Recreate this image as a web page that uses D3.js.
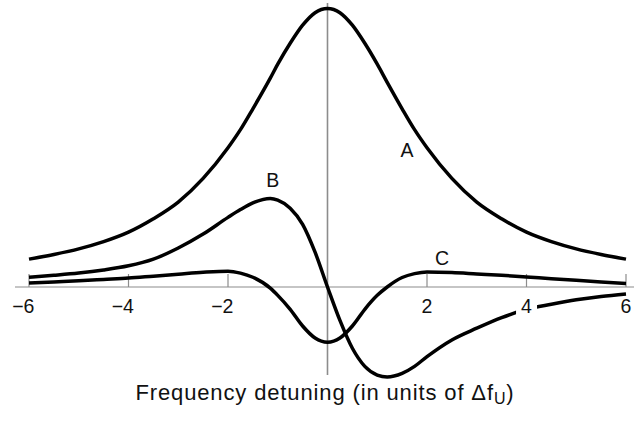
<!DOCTYPE html>
<html>
<head>
<meta charset="utf-8">
<script src="https://cdn.jsdelivr.net/npm/d3@7"></script>
<style>
  html, body { margin: 0; padding: 0; background: #fff; }
  svg { display: block; font-family: "Liberation Sans", Arial, Helvetica, sans-serif; }
</style>
</head>
<body>
<svg id="chart" width="634" height="421"></svg>
<script>
// Detuning samples (units of Δf_U)
const detuning = [-6, -5.5, -5, -4.5, -4, -3.5, -3, -2.5, -2, -1.75, -1.5, -1.15, -1, -0.75, -0.5, -0.25, 0,
                  0.25, 0.5, 0.75, 1, 1.2, 1.5, 1.75, 2, 2.5, 3, 3.5, 4, 4.5, 5, 5.5, 6];

// Curve A: absorption-like peak
const curveA = [0.10, 0.117, 0.137, 0.163, 0.197, 0.245, 0.305, 0.39, 0.50, 0.565, 0.64, 0.75, 0.80, 0.875, 0.94, 0.985, 1.0,
                0.985, 0.94, 0.875, 0.80, 0.735, 0.64, 0.565, 0.50, 0.39, 0.305, 0.245, 0.197, 0.163, 0.137, 0.117, 0.10];

// Curve B: dispersive (odd) signal
const curveB = [0.035, 0.042, 0.05, 0.061, 0.076, 0.10, 0.14, 0.19, 0.25, 0.278, 0.302, 0.318, 0.312, 0.283, 0.225, 0.125, 0,
                -0.12, -0.22, -0.285, -0.316, -0.323, -0.31, -0.285, -0.25, -0.19, -0.148, -0.11, -0.08, -0.062, -0.046, -0.034, -0.025];

// Curve C: central dip with shallow side lobes
const curveC = [0.014, 0.018, 0.022, 0.027, 0.032, 0.039, 0.046, 0.053, 0.057, 0.05, 0.035, -0.004, -0.03, -0.08, -0.14, -0.183, -0.198,
                -0.183, -0.14, -0.08, -0.03, 0.0, 0.034, 0.048, 0.054, 0.052, 0.047, 0.042, 0.036, 0.030, 0.024, 0.018, 0.013];

const tickValues = [-6, -4, -2, 2, 4, 6];
const curveNames = ["A", "B", "C"];
const curveLabelPos = [[1.6, 0.465], [-1.1, 0.36], [2.3, 0.08]];

const svg = d3.select("#chart");
const x = d3.scaleLinear().domain([-6, 6]).range([29, 626]);
const y = d3.scaleLinear().domain([0, 1]).range([287, 8.5]);

// horizontal axis line
svg.append("line")
  .attr("x1", 15).attr("x2", 634)
  .attr("y1", y(0)).attr("y2", y(0))
  .attr("stroke", "#8c8c8c").attr("stroke-width", 1.2);

// tick marks pointing up
svg.selectAll("line.tick").data(tickValues).enter().append("line")
  .attr("class", "tick")
  .attr("x1", d => x(d)).attr("x2", d => x(d))
  .attr("y1", y(0)).attr("y2", y(0) - 13)
  .attr("stroke", "#8c8c8c").attr("stroke-width", 1.2);

// vertical line at zero detuning
svg.append("line")
  .attr("x1", x(0)).attr("x2", x(0))
  .attr("y1", 3).attr("y2", 375)
  .attr("stroke", "#8c8c8c").attr("stroke-width", 1.6);

// curves
const line = d3.line()
  .x((d, i) => x(detuning[i]))
  .y(d => y(d))
  .curve(d3.curveMonotoneX);

[curveA, curveB, curveC].forEach(series => {
  svg.append("path")
    .attr("d", line(series))
    .attr("fill", "none")
    .attr("stroke", "#000")
    .attr("stroke-width", 3.5)
    .attr("stroke-linejoin", "round");
});

// tick labels with a white backing (digit centred on the tick, minus sign hanging left)
const tickLabels = svg.selectAll("g.tl").data(tickValues).enter().append("g").attr("class", "tl");
tickLabels.append("text")
  .attr("x", d => x(d) + 5.4)
  .attr("y", 313)
  .attr("text-anchor", "end")
  .attr("font-size", 19.5)
  .attr("fill", "#111")
  .text(d => d < 0 ? "\u2212" + Math.abs(d) : String(d));
tickLabels.each(function() {
  const g = d3.select(this);
  const bb = g.select("text").node().getBBox();
  g.insert("rect", "text")
    .attr("x", bb.x - 5).attr("y", bb.y + 2)
    .attr("width", bb.width + 10).attr("height", bb.height - 4)
    .attr("fill", "#fff");
});

// curve labels
svg.selectAll("text.cl").data(curveNames).enter().append("text")
  .attr("class", "cl")
  .attr("x", (d, i) => x(curveLabelPos[i][0]))
  .attr("y", (d, i) => y(curveLabelPos[i][1]))
  .attr("text-anchor", "middle")
  .attr("font-size", 19.5)
  .attr("fill", "#111")
  .text(d => d);

// axis title, spread to its full width
const title = svg.append("text")
  .attr("x", 325).attr("y", 400)
  .attr("text-anchor", "middle")
  .attr("font-size", 22)
  .attr("fill", "#111");
title.append("tspan").text("Frequency detuning (in units of \u0394f");
title.append("tspan").attr("font-size", 16).attr("dy", 4).text("U");
title.append("tspan").attr("dy", -4).text(")");
const natural = title.node().getComputedTextLength();
const nChars = 37;
title.attr("letter-spacing", Math.max(0, (380 - natural) / nChars));
</script>
</body>
</html>
